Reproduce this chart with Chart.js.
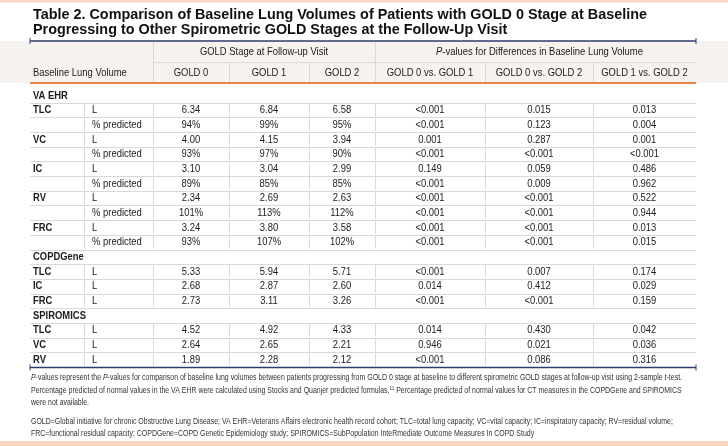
<!DOCTYPE html>
<html>
<head>
<meta charset="utf-8">
<script src="https://cdn.jsdelivr.net/npm/chart.js@4.4.1/dist/chart.umd.min.js"></script>
<style>
  html, body { margin: 0; padding: 0; background: #fff; }
  canvas { display: block; }
</style>
</head>
<body>
<canvas id="tbl" width="728" height="446"></canvas>
<script>
// ---- table content ----
const titleLines = [
  "Table 2. Comparison of Baseline Lung Volumes of Patients with GOLD 0 Stage at Baseline",
  "Progressing to Other Spirometric GOLD Stages at the Follow-Up Visit"
];
const colHeaders = ["GOLD 0", "GOLD 1", "GOLD 2", "GOLD 0 vs. GOLD 1", "GOLD 0 vs. GOLD 2", "GOLD 1 vs. GOLD 2"];
const cohorts = ["VA EHR", "COPDGene", "SPIROMICS"];
const rowMeasure = ["VA EHR", "TLC", "", "VC", "", "IC", "", "RV", "", "FRC", "",
  "COPDGene", "TLC", "IC", "FRC", "SPIROMICS", "TLC", "VC", "RV"];
const rowUnit = ["", "L", "% predicted", "L", "% predicted", "L", "% predicted", "L", "% predicted", "L", "% predicted",
  "", "L", "L", "L", "", "L", "L", "L"];
const gold0 = ["", "6.34", "94%", "4.00", "93%", "3.10", "89%", "2.34", "101%", "3.24", "93%",
  "", "5.33", "2.68", "2.73", "", "4.52", "2.64", "1.89"];
const gold1 = ["", "6.84", "99%", "4.15", "97%", "3.04", "85%", "2.69", "113%", "3.80", "107%",
  "", "5.94", "2.87", "3.11", "", "4.92", "2.65", "2.28"];
const gold2 = ["", "6.58", "95%", "3.94", "90%", "2.99", "85%", "2.63", "112%", "3.58", "102%",
  "", "5.71", "2.60", "3.26", "", "4.33", "2.21", "2.12"];
const p01 = ["", "<0.001", "<0.001", "0.001", "<0.001", "0.149", "<0.001", "<0.001", "<0.001", "<0.001", "<0.001",
  "", "<0.001", "0.014", "<0.001", "", "0.014", "0.946", "<0.001"];
const p02 = ["", "0.015", "0.123", "0.287", "<0.001", "0.059", "0.009", "<0.001", "<0.001", "<0.001", "<0.001",
  "", "0.007", "0.412", "<0.001", "", "0.430", "0.021", "0.086"];
const p12 = ["", "0.013", "0.004", "0.001", "<0.001", "0.486", "0.962", "0.522", "0.944", "0.013", "0.015",
  "", "0.174", "0.029", "0.159", "", "0.042", "0.036", "0.316"];
const footnotes = [
  [["P", "i"], ["-values represent the ", ""], ["P", "i"], ["-values for comparison of baseline lung volumes between patients progressing from GOLD 0 stage at baseline to different spirometric GOLD stages at follow-up visit using 2-sample ", ""], ["t", "i"], ["-test.", ""]],
  [["Percentage predicted of normal values in the VA EHR were calculated using Stocks and Quanjer predicted formulas.", ""], ["11", "s"], [" Percentage predicted of normal values for CT measures in the COPDGene and SPIROMICS", ""]],
  [["were not available.", ""]],
  [["GOLD=Global initiative for chronic Obstructive Lung Disease; VA EHR=Veterans Affairs electronic health record cohort; TLC=total lung capacity; VC=vital capacity; IC=inspiratory capacity; RV=residual volume;", ""]],
  [["FRC=functional residual capacity; COPDGene=COPD Genetic Epidemiology study; SPIROMICS=SubPopulation InteRmediate Outcome Measures In COPD Study", ""]]
];

// ---- layout ----
const colEdges = [0, 54, 123, 199, 279, 345, 455, 563, 666]; // x-scale units
const FONT = "'Liberation Sans', Arial, sans-serif";
const NAVY = "#2d3c6b", ORANGE = "#e8804e", GRID = "#d9d9d9", INK = "#1c1c1c";

const columns = [rowMeasure, rowUnit, gold0, gold1, gold2, p01, p02, p12];
const datasets = columns.map((col, c) => ({
  data: col.map((t, i) => ({
    x: c < 2 ? colEdges[c] : (colEdges[c] + colEdges[c + 1]) / 2,
    y: i, t: t
  })).filter(d => d.t !== ""),
  align: c < 2 ? "left" : "center",
  pointRadius: 0
}));

// draw styled runs, condensed horizontally
function runs(ctx, parts, x, y, size, squeeze, align, color) {
  const fontOf = s => (s === "b" ? "bold " : s === "i" ? "italic " : "") + (s === "s" ? size * 0.65 : size) + "px " + FONT;
  let w = 0;
  parts.forEach(p => { ctx.font = fontOf(p[1]); w += ctx.measureText(p[0]).width; });
  let sx = align === "center" ? x - w * squeeze / 2 : x;
  ctx.save();
  ctx.translate(sx, y);
  ctx.scale(squeeze, 1);
  ctx.fillStyle = color;
  ctx.textBaseline = "middle";
  ctx.textAlign = "left";
  let cx = 0;
  parts.forEach(p => {
    ctx.font = fontOf(p[1]);
    ctx.fillText(p[0], cx, p[1] === "s" ? -size * 0.35 : 0);
    cx += ctx.measureText(p[0]).width;
  });
  ctx.restore();
}
function widthOf(ctx, text, font) { ctx.font = font; return ctx.measureText(text).width; }

function navyRule(ctx, x1, x2, y) {
  ctx.strokeStyle = NAVY; ctx.lineWidth = 1.5;
  ctx.beginPath(); ctx.moveTo(x1, y); ctx.lineTo(x2, y); ctx.stroke();
  ctx.lineWidth = 1;
  ctx.beginPath(); ctx.moveTo(x1, y - 3); ctx.lineTo(x1, y + 3); ctx.moveTo(x2, y - 3); ctx.lineTo(x2, y + 3); ctx.stroke();
}

const tablePlugin = {
  id: "tablePlugin",
  beforeDatasetsDraw(chart) {
    const ctx = chart.ctx, xs = chart.scales.x, ys = chart.scales.y;
    const L = xs.getPixelForValue(colEdges[0]), R = xs.getPixelForValue(colEdges[8]);
    const ex = i => Math.round(xs.getPixelForValue(colEdges[i])) + 0.5;
    ctx.save();
    // page bands
    ctx.fillStyle = "#fbd8c3";
    ctx.fillRect(0, 0, chart.width, 2.5);
    ctx.fillRect(0, 441, chart.width, 5);
    // header background
    ctx.fillStyle = "#f6f2ef";
    ctx.fillRect(0, 41, chart.width, 42);
    // header grid
    ctx.strokeStyle = GRID; ctx.lineWidth = 1;
    ctx.beginPath();
    ctx.moveTo(ex(2), 62.5); ctx.lineTo(R, 62.5);
    [2, 5].forEach(i => { ctx.moveTo(ex(i), 42); ctx.lineTo(ex(i), 82); });
    [3, 4, 6, 7].forEach(i => { ctx.moveTo(ex(i), 63); ctx.lineTo(ex(i), 82); });
    ctx.stroke();
    // body grid
    ctx.beginPath();
    for (let i = 0; i < rowMeasure.length - 1; i++) {
      const y = Math.round(ys.getPixelForValue(i + 0.5)) + 0.5;
      ctx.moveTo(L, y); ctx.lineTo(R, y);
    }
    rowMeasure.forEach((m, i) => {
      if (cohorts.includes(m)) return;
      const y1 = ys.getPixelForValue(i - 0.5), y2 = ys.getPixelForValue(i + 0.5);
      for (let c = 1; c < 8; c++) { ctx.moveTo(ex(c), y1 + 1); ctx.lineTo(ex(c), y2 - 1); }
    });
    ctx.stroke();
    // rules
    navyRule(ctx, L, R, 41);
    navyRule(ctx, L, R, Math.round(ys.getPixelForValue(rowMeasure.length - 0.5)) + 0.5);
    ctx.strokeStyle = ORANGE; ctx.lineWidth = 2;
    ctx.beginPath(); ctx.moveTo(L, 83); ctx.lineTo(R, 83); ctx.stroke();

    // title
    const tf = "bold 15px " + FONT;
    const tsq = 614 / widthOf(ctx, titleLines[0], tf);
    runs(ctx, [[titleLines[0], "b"]], 33, 14.5, 15, tsq, "left", "#111");
    runs(ctx, [[titleLines[1], "b"]], 33, 30, 15, tsq, "left", "#111");

    // headers
    const sq = 0.82;
    const cxm = (a, b) => (xs.getPixelForValue(colEdges[a]) + xs.getPixelForValue(colEdges[b])) / 2;
    runs(ctx, [["GOLD Stage at Follow-up Visit", ""]], cxm(2, 5), 52, 11.5, sq, "center", INK);
    runs(ctx, [["P", "i"], ["-values for Differences in Baseline Lung Volume", ""]], cxm(5, 8) + 4, 52, 11.5, sq, "center", INK);
    runs(ctx, [["Baseline Lung Volume", ""]], L + 3, 73, 11.5, sq, "left", INK);
    colHeaders.forEach((h, k) => runs(ctx, [[h, ""]], cxm(k + 2, k + 3), 73, 11.5, sq, "center", INK));

    // footnotes
    const ff = "8.2px " + FONT;
    let w0 = 0;
    footnotes[0].forEach(p => { w0 += widthOf(ctx, p[0], (p[1] === "i" ? "italic " : "") + ff); });
    const fsq = 651 / w0;
    [378, 391, 403, 422, 434].forEach((y, k) => runs(ctx, footnotes[k], 31, y, 8.2, fsq, "left", "#333"));
    ctx.restore();
  },
  afterDatasetsDraw(chart) {
    const ctx = chart.ctx;
    chart.data.datasets.forEach((ds, c) => {
      chart.getDatasetMeta(c).data.forEach((pt, j) => {
        const d = ds.data[j];
        const bold = c === 0;
        const x = ds.align === "left" ? pt.x + (c === 0 ? 3 : 8) : pt.x;
        runs(ctx, [[d.t, bold ? "b" : ""]], x, pt.y, 11.5, 0.82, ds.align, INK);
      });
    });
  }
};

new Chart(document.getElementById("tbl"), {
  type: "scatter",
  data: { datasets: datasets },
  options: {
    responsive: false,
    animation: false,
    devicePixelRatio: 1,
    layout: { padding: { left: 30, right: 32, top: 88, bottom: 79 } },
    scales: {
      x: { type: "linear", display: false, min: colEdges[0], max: colEdges[8] },
      y: { type: "linear", display: false, min: -0.5, max: rowMeasure.length - 0.5, reverse: true }
    },
    plugins: { legend: { display: false }, tooltip: { enabled: false }, title: { display: false } }
  },
  plugins: [tablePlugin]
});
</script>
</body>
</html>
